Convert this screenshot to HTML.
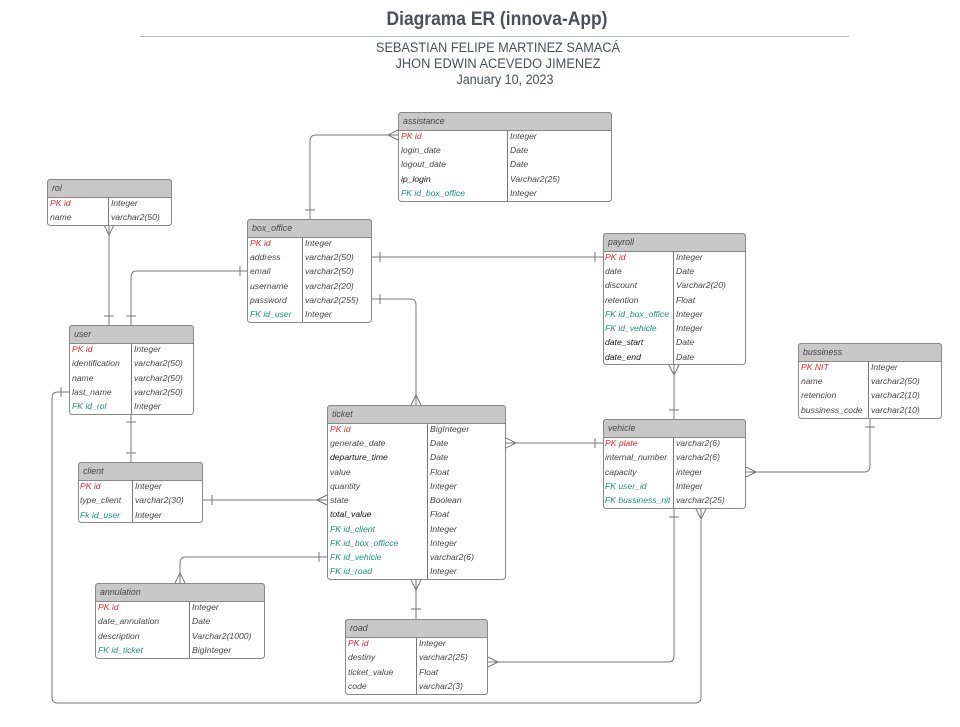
<!DOCTYPE html>
<html><head><meta charset="utf-8"><style>
html,body{margin:0;padding:0;background:#fff;}
svg{display:block;}
text{font-family:"Liberation Sans",sans-serif;}
.t{font-size:8.6px;font-style:italic;fill:#444;}
.b{fill:#111;}
.pk{fill:#e8262b;}
.fk{fill:#17937a;}
.h{font-size:8.8px;font-style:italic;fill:#444;}
.box{fill:#fff;stroke:#888;stroke-width:1;}
.hd{fill:#c8c8c8;stroke:#888;stroke-width:1;}
.ln{fill:none;stroke:#777;stroke-width:1;}
</style></head><body>
<svg width="960" height="727" viewBox="0 0 960 727" xmlns="http://www.w3.org/2000/svg">
<text x="497" y="25" text-anchor="middle" font-size="19" font-weight="bold" fill="#4a4f5a" textLength="221" lengthAdjust="spacingAndGlyphs">Diagrama ER (innova-App)</text>
<line x1="140" y1="36.5" x2="849" y2="36.5" stroke="#b8bcc6" stroke-width="1"/>
<text x="498" y="52" text-anchor="middle" font-size="13.5" fill="#4a4f5a" textLength="244" lengthAdjust="spacingAndGlyphs">SEBASTIAN FELIPE MARTINEZ SAMACÁ</text>
<text x="498" y="68" text-anchor="middle" font-size="13.5" fill="#4a4f5a" textLength="205" lengthAdjust="spacingAndGlyphs">JHON EDWIN ACEVEDO JIMENEZ</text>
<text x="505" y="84" text-anchor="middle" font-size="13.5" fill="#4a4f5a" textLength="97" lengthAdjust="spacingAndGlyphs">January 10, 2023</text>

<!-- connectors -->
<g class="ln">
<!-- assistance - box_office -->
<path d="M398 135 H316 Q310 135 310 141 V219"/>
<path d="M388 135 L398 130 M388 135 L398 140"/>
<path d="M305 210 H315"/>
<!-- rol - user -->
<path d="M109 225 V325"/>
<path d="M109 235 L104 225 M109 235 L114 225"/>
<path d="M104 316 H114"/>
<!-- box_office email - user -->
<path d="M247 271 H137 Q131 271 131 277 V325"/>
<path d="M240 266 V276 M126 316 H136"/>
<!-- box_office - payroll -->
<path d="M372 257 H603"/>
<path d="M380 252 V262 M595 252 V262"/>
<!-- box_office password - ticket -->
<path d="M372 299 H410 Q416 299 416 305 V405"/>
<path d="M380 294 V304 M416 395 L411 405 M416 395 L421 405"/>
<!-- user - client -->
<path d="M131 414 V462"/>
<path d="M126 422 H136 M126 453 H136"/>
<!-- user last_name - vehicle -->
<path d="M69 392 H58 Q52 392 52 398 V697 Q52 703 58 703 H695 Q701 703 701 697 V509"/>
<path d="M61 387 V397 M701 519 L696 509 M701 519 L706 509"/>
<!-- client - ticket -->
<path d="M203 500 H327"/>
<path d="M212 495 V505 M317 500 L327 495 M317 500 L327 505"/>
<!-- ticket vehicle - annulation -->
<path d="M327 557 H186 Q180 557 180 563 V583"/>
<path d="M319 552 V562 M180 573 L175 583 M180 573 L185 583"/>
<!-- ticket - road -->
<path d="M416 580 V619"/>
<path d="M416 590 L411 580 M416 590 L421 580 M411 609 H421"/>
<!-- ticket - vehicle -->
<path d="M506 443 H603"/>
<path d="M516 443 L506 438 M516 443 L506 448 M595 438 V448"/>
<!-- payroll - vehicle -->
<path d="M674 365 V419"/>
<path d="M674 375 L669 365 M674 375 L679 365 M669 410 H679"/>
<!-- vehicle - bussiness -->
<path d="M746 472 H864 Q870 472 870 466 V418"/>
<path d="M756 472 L746 467 M756 472 L746 477 M865 427 H875"/>
<!-- road - vehicle -->
<path d="M488 662 H668 Q674 662 674 656 V509"/>
<path d="M498 662 L488 657 M498 662 L488 667 M669 517 H679"/>
</g>

<!-- assistance -->
<g>
<rect class="box" x="398.5" y="112.5" width="213" height="89" rx="3"/>
<path class="hd" d="M398.5 130.5 V115.5 Q398.5 112.5 401.5 112.5 H608.5 Q611.5 112.5 611.5 115.5 V130.5 Z"/>
<line class="ln" x1="507.5" y1="130" x2="507.5" y2="201" stroke="#888"/>
<text class="h" x="403" y="124">assistance</text>
<text class="t pk" x="401" y="139">PK id</text><text class="t" x="510" y="139">Integer</text>
<text class="t" x="401" y="153">login_date</text><text class="t" x="510" y="153">Date</text>
<text class="t" x="401" y="167">logout_date</text><text class="t" x="510" y="167">Date</text>
<text class="t b" x="401" y="182">ip_login</text><text class="t" x="510" y="182">Varchar2(25)</text>
<text class="t fk" x="401" y="196">FK id_box_office</text><text class="t" x="510" y="196">Integer</text>
</g>

<!-- rol -->
<g>
<rect class="box" x="47.5" y="179.5" width="124" height="46" rx="3"/>
<path class="hd" d="M47.5 197.5 V182.5 Q47.5 179.5 50.5 179.5 H168.5 Q171.5 179.5 171.5 182.5 V197.5 Z"/>
<line class="ln" x1="108.5" y1="197" x2="108.5" y2="225"/>
<text class="h" x="52" y="191">rol</text>
<text class="t pk" x="50" y="206">PK id</text><text class="t" x="111" y="206">Integer</text>
<text class="t" x="50" y="220">name</text><text class="t" x="111" y="220">varchar2(50)</text>
</g>

<!-- box_office -->
<g>
<rect class="box" x="247.5" y="219.5" width="124" height="103" rx="3"/>
<path class="hd" d="M247.5 237.5 V222.5 Q247.5 219.5 250.5 219.5 H368.5 Q371.5 219.5 371.5 222.5 V237.5 Z"/>
<line class="ln" x1="302.5" y1="237" x2="302.5" y2="322"/>
<text class="h" x="252" y="231">box_office</text>
<text class="t pk" x="250" y="246">PK id</text><text class="t" x="305" y="246">Integer</text>
<text class="t" x="250" y="260">address</text><text class="t" x="305" y="260">varchar2(50)</text>
<text class="t" x="250" y="274">email</text><text class="t" x="305" y="274">varchar2(50)</text>
<text class="t" x="250" y="289">username</text><text class="t" x="305" y="289">varchar2(20)</text>
<text class="t" x="250" y="303">password</text><text class="t" x="305" y="303">varchar2(255)</text>
<text class="t fk" x="250" y="317">FK id_user</text><text class="t" x="305" y="317">Integer</text>
</g>

<!-- payroll -->
<g>
<rect class="box" x="603.5" y="233.5" width="142" height="131" rx="3"/>
<path class="hd" d="M603.5 251.5 V236.5 Q603.5 233.5 606.5 233.5 H742.5 Q745.5 233.5 745.5 236.5 V251.5 Z"/>
<line class="ln" x1="673.5" y1="251" x2="673.5" y2="365"/>
<text class="h" x="608" y="245">payroll</text>
<text class="t pk" x="605" y="260">PK id</text><text class="t" x="676" y="260">Integer</text>
<text class="t" x="605" y="274">date</text><text class="t" x="676" y="274">Date</text>
<text class="t" x="605" y="288">discount</text><text class="t" x="676" y="288">Varchar2(20)</text>
<text class="t" x="605" y="303">retention</text><text class="t" x="676" y="303">Float</text>
<text class="t fk" x="605" y="317">FK id_box_office</text><text class="t" x="676" y="317">Integer</text>
<text class="t fk" x="605" y="331">FK id_vehicle</text><text class="t" x="676" y="331">Integer</text>
<text class="t b" x="605" y="345">date_start</text><text class="t" x="676" y="345">Date</text>
<text class="t b" x="605" y="360">date_end</text><text class="t" x="676" y="360">Date</text>
</g>

<!-- bussiness -->
<g>
<rect class="box" x="798.5" y="343.5" width="143" height="75" rx="3"/>
<path class="hd" d="M798.5 361.5 V346.5 Q798.5 343.5 801.5 343.5 H938.5 Q941.5 343.5 941.5 346.5 V361.5 Z"/>
<line class="ln" x1="868.5" y1="361" x2="868.5" y2="418"/>
<text class="h" x="803" y="355">bussiness</text>
<text class="t pk" x="801" y="370">PK NIT</text><text class="t" x="871" y="370">Integer</text>
<text class="t" x="801" y="384">name</text><text class="t" x="871" y="384">varchar2(50)</text>
<text class="t" x="801" y="398">retencion</text><text class="t" x="871" y="398">varchar2(10)</text>
<text class="t" x="801" y="413">bussiness_code</text><text class="t" x="871" y="413">varchar2(10)</text>
</g>

<!-- user -->
<g>
<rect class="box" x="69.5" y="325.5" width="124" height="89" rx="3"/>
<path class="hd" d="M69.5 343.5 V328.5 Q69.5 325.5 72.5 325.5 H190.5 Q193.5 325.5 193.5 328.5 V343.5 Z"/>
<line class="ln" x1="131.5" y1="343" x2="131.5" y2="414"/>
<text class="h" x="74" y="337">user</text>
<text class="t pk" x="72" y="352">PK id</text><text class="t" x="134" y="352">Integer</text>
<text class="t" x="72" y="366">identification</text><text class="t" x="134" y="366">varchar2(50)</text>
<text class="t" x="72" y="381">name</text><text class="t" x="134" y="381">varchar2(50)</text>
<text class="t" x="72" y="395">last_name</text><text class="t" x="134" y="395">varchar2(50)</text>
<text class="t fk" x="72" y="409">FK id_rol</text><text class="t" x="134" y="409">Integer</text>
</g>

<!-- ticket -->
<g>
<rect class="box" x="327.5" y="405.5" width="178" height="174" rx="3"/>
<path class="hd" d="M327.5 423.5 V408.5 Q327.5 405.5 330.5 405.5 H502.5 Q505.5 405.5 505.5 408.5 V423.5 Z"/>
<line class="ln" x1="427.5" y1="423" x2="427.5" y2="580"/>
<text class="h" x="332" y="417">ticket</text>
<text class="t pk" x="330" y="432">PK id</text><text class="t" x="430" y="432">BigInteger</text>
<text class="t" x="330" y="446">generate_date</text><text class="t" x="430" y="446">Date</text>
<text class="t b" x="330" y="460">departure_time</text><text class="t" x="430" y="460">Date</text>
<text class="t" x="330" y="475">value</text><text class="t" x="430" y="475">Float</text>
<text class="t" x="330" y="489">quantity</text><text class="t" x="430" y="489">Integer</text>
<text class="t" x="330" y="503">state</text><text class="t" x="430" y="503">Boolean</text>
<text class="t b" x="330" y="517">total_value</text><text class="t" x="430" y="517">Float</text>
<text class="t fk" x="330" y="532">FK id_client</text><text class="t" x="430" y="532">Integer</text>
<text class="t fk" x="330" y="546">FK id_box_officce</text><text class="t" x="430" y="546">Integer</text>
<text class="t fk" x="330" y="560">FK id_vehicle</text><text class="t" x="430" y="560">varchar2(6)</text>
<text class="t fk" x="330" y="574">FK id_road</text><text class="t" x="430" y="574">Integer</text>
</g>

<!-- vehicle -->
<g>
<rect class="box" x="603.5" y="419.5" width="142" height="89" rx="3"/>
<path class="hd" d="M603.5 437.5 V422.5 Q603.5 419.5 606.5 419.5 H742.5 Q745.5 419.5 745.5 422.5 V437.5 Z"/>
<line class="ln" x1="673.5" y1="437" x2="673.5" y2="509"/>
<text class="h" x="608" y="431">vehicle</text>
<text class="t pk" x="605" y="446">PK plate</text><text class="t" x="676" y="446">varchar2(6)</text>
<text class="t" x="605" y="460">internal_number</text><text class="t" x="676" y="460">varchar2(6)</text>
<text class="t" x="605" y="475">capacity</text><text class="t" x="676" y="475">integer</text>
<text class="t fk" x="605" y="489">FK user_id</text><text class="t" x="676" y="489">Integer</text>
<text class="t fk" x="605" y="503">FK bussiness_nit</text><text class="t" x="676" y="503">varchar2(25)</text>
</g>

<!-- client -->
<g>
<rect class="box" x="78.5" y="462.5" width="124" height="60" rx="3"/>
<path class="hd" d="M78.5 480.5 V465.5 Q78.5 462.5 81.5 462.5 H199.5 Q202.5 462.5 202.5 465.5 V480.5 Z"/>
<line class="ln" x1="132.5" y1="480" x2="132.5" y2="522"/>
<text class="h" x="83" y="474">client</text>
<text class="t pk" x="80" y="489">PK id</text><text class="t" x="135" y="489">Integer</text>
<text class="t" x="80" y="503">type_client</text><text class="t" x="135" y="503">varchar2(30)</text>
<text class="t fk" x="80" y="518">Fk id_user</text><text class="t" x="135" y="518">Integer</text>
</g>

<!-- annulation -->
<g>
<rect class="box" x="95.5" y="583.5" width="169" height="75" rx="3"/>
<path class="hd" d="M95.5 601.5 V586.5 Q95.5 583.5 98.5 583.5 H261.5 Q264.5 583.5 264.5 586.5 V601.5 Z"/>
<line class="ln" x1="189.5" y1="601" x2="189.5" y2="658"/>
<text class="h" x="100" y="595">annulation</text>
<text class="t pk" x="98" y="610">PK id</text><text class="t" x="192" y="610">Integer</text>
<text class="t" x="98" y="624">date_annulation</text><text class="t" x="192" y="624">Date</text>
<text class="t" x="98" y="639">description</text><text class="t" x="192" y="639">Varchar2(1000)</text>
<text class="t fk" x="98" y="653">FK id_ticket</text><text class="t" x="192" y="653">BigInteger</text>
</g>

<!-- road -->
<g>
<rect class="box" x="345.5" y="619.5" width="142" height="75" rx="3"/>
<path class="hd" d="M345.5 637.5 V622.5 Q345.5 619.5 348.5 619.5 H484.5 Q487.5 619.5 487.5 622.5 V637.5 Z"/>
<line class="ln" x1="416.5" y1="637" x2="416.5" y2="694"/>
<text class="h" x="350" y="631">road</text>
<text class="t pk" x="348" y="646">PK id</text><text class="t" x="419" y="646">Integer</text>
<text class="t" x="348" y="660">destiny</text><text class="t" x="419" y="660">varchar2(25)</text>
<text class="t" x="348" y="675">ticket_value</text><text class="t" x="419" y="675">Float</text>
<text class="t" x="348" y="689">code</text><text class="t" x="419" y="689">varchar2(3)</text>
</g>
</svg>
</body></html>
